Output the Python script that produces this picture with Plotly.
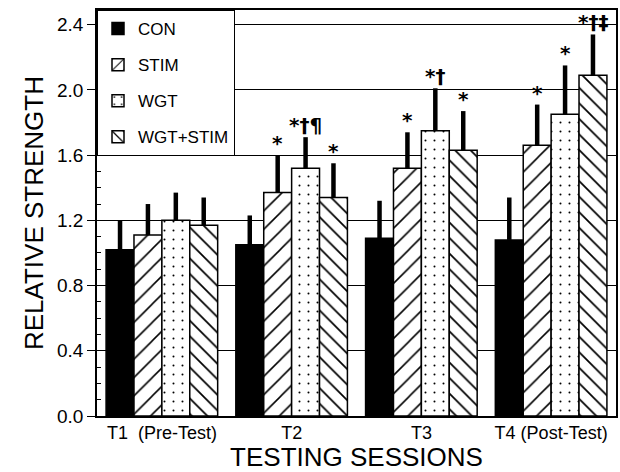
import plotly.graph_objects as go

sessions = ["T1  (Pre-Test)", "T2", "T3", "T4 (Post-Test)"]
groups = ["CON", "STIM", "WGT", "WGT+STIM"]

con_mean = [1.02, 1.05, 1.09, 1.08]
con_err = [0.18, 0.18, 0.23, 0.26]
stim_mean = [1.11, 1.37, 1.52, 1.66]
stim_err = [0.19, 0.23, 0.22, 0.25]
wgt_mean = [1.20, 1.52, 1.75, 1.85]
wgt_err = [0.17, 0.19, 0.26, 0.30]
ws_mean = [1.17, 1.34, 1.63, 2.09]
ws_err = [0.17, 0.21, 0.24, 0.25]

con_sig = ["", "", "", ""]
stim_sig = ["", "*", "*", "*"]
wgt_sig = ["", "*†¶", "*†", "*"]
ws_sig = ["", "*", "*", "*†‡"]

means = [con_mean, stim_mean, wgt_mean, ws_mean]
errs = [con_err, stim_err, wgt_err, ws_err]
sigs = [con_sig, stim_sig, wgt_sig, ws_sig]
patterns = [
    dict(shape="", fillmode="replace"),
    dict(shape="/", size=13, solidity=0.12, fgcolor="black", bgcolor="white", fillmode="replace"),
    dict(shape=".", size=9, solidity=0.04, fgcolor="black", bgcolor="white", fillmode="replace"),
    dict(shape="\\", size=11, solidity=0.16, fgcolor="black", bgcolor="white", fillmode="replace"),
]
colors = ["black", "white", "white", "white"]

FONT = "Liberation Sans, Arial, Helvetica, sans-serif"

fig = go.Figure()
for i, g in enumerate(groups):
    fig.add_trace(go.Bar(
        x=sessions, y=means[i], name=g, legendgroup=g,
        marker=dict(color=colors[i], line=dict(color="black", width=1.5), pattern=patterns[i]),
        error_y=dict(type="data", symmetric=False, array=errs[i], arrayminus=[0]*4,
                     color="black", thickness=4.5, width=0),
    ))

# significance markers above error bars
n = len(groups)
for i in range(n):
    for j, s in enumerate(sessions):
        if sigs[i][j]:
            fig.add_annotation(
                x=s, y=means[i][j] + errs[i][j], text="<b>" + sigs[i][j] + "</b>",
                xref="x", yref="y", showarrow=False, yanchor="bottom",
                xshift=(i - (n - 1) / 2) * 28.0, yshift=-2,
                font=dict(family="DejaVu Sans, sans-serif", size=20, color="black"),
            )

fig.update_layout(
    width=620, height=472,
    margin=dict(l=97, r=2, t=10, b=56),
    paper_bgcolor="white", plot_bgcolor="white",
    barmode="group", bargap=0.14, bargroupgap=0,
    font=dict(family=FONT, color="black"),
    showlegend=True,
    legend=dict(x=0, y=1, xanchor="left", yanchor="top",
                bgcolor="white", bordercolor="black", borderwidth=1,
                font=dict(size=17, family=FONT), tracegroupgap=11,
                itemwidth=30),
)
fig.update_xaxes(
    showline=True, mirror=True, linecolor="black", linewidth=1.5,
    ticks="", tickfont=dict(size=18, family=FONT),
    title=dict(text="TESTING SESSIONS", font=dict(size=26, family=FONT), standoff=0),
)
fig.update_yaxes(
    range=[0, 2.49], dtick=0.4, tickformat=".1f",
    showline=True, mirror=True, linecolor="black", linewidth=1.5,
    ticks="outside", ticklen=8, tickwidth=1.2, tickcolor="black",
    minor=dict(dtick=0.1, ticks="inside", ticklen=4, tickcolor="black", showgrid=False),
    showgrid=True, gridcolor="black", gridwidth=1,
    zeroline=False,
    tickfont=dict(size=19, family=FONT),
    title=dict(text="RELATIVE STRENGTH", font=dict(size=26, family=FONT), standoff=6),
)

fig.write_html("out.html")
